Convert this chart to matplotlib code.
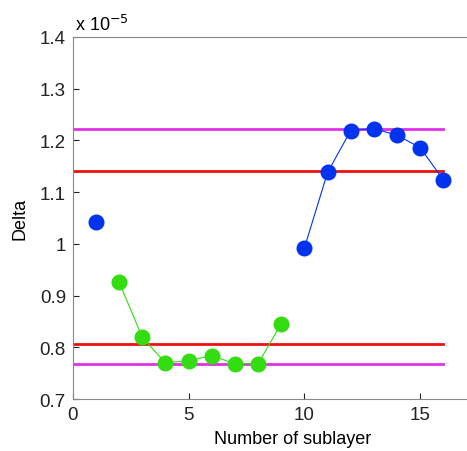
import numpy as np
import matplotlib.pyplot as plt

plt.rcParams['font.family'] = ['Liberation Sans', 'DejaVu Sans']

# Data (values in units of 1e-5)
x_first = [1]
y_first = [1.043]
x_green = [2, 3, 4, 5, 6, 7, 8, 9]
y_green = [0.926, 0.819, 0.770, 0.774, 0.784, 0.768, 0.768, 0.846]
x_blue = [10, 11, 12, 13, 14, 15, 16]
y_blue = [0.992, 1.138, 1.219, 1.223, 1.210, 1.186, 1.124]

magenta_levels = [1.222, 0.768]
red_levels = [1.141, 0.806]
line_span = [0, 16]

fig = plt.figure(figsize=(4.67, 4.52), dpi=100)
ax = fig.add_axes([0.156, 0.115, 0.942, 0.801])

for lv in magenta_levels:
    ax.plot(line_span, [lv, lv], color='#e030e8', lw=2)
for lv in red_levels:
    ax.plot(line_span, [lv, lv], color='#ee1111', lw=2)

ax.plot(x_first, y_first, 'o', color='#0033ee', ms=10.5)
ax.plot(x_green, y_green, '-o', color='#33dd11', ms=10.5, lw=0.8,
        markeredgecolor='#33dd11')
ax.plot(x_blue, y_blue, '-o', color='#0033ee', ms=10.5, lw=0.8,
        markeredgecolor='#0033ee')

ax.set_xlim(0, 19)
ax.set_ylim(0.7, 1.4)
ax.set_xticks([0, 5, 10, 15])
ax.set_yticks([0.7, 0.8, 0.9, 1.0, 1.1, 1.2, 1.3, 1.4])
ax.set_yticklabels(['0.7', '0.8', '0.9', '1', '1.1', '1.2', '1.3', '1.4'])
ax.tick_params(direction='in', length=4, labelsize=13.5, colors='#222222',
               pad=5)
for s in ax.spines.values():
    s.set_color('#888888')
ax.spines['right'].set_visible(False)

ax.set_xlabel('Number of sublayer', fontsize=13, labelpad=5)
ax.set_ylabel('Delta', fontsize=13, labelpad=8)
ax.text(0.005, 1.008, r'x 10$^{-5}$', transform=ax.transAxes, fontsize=13,
        ha='left', va='bottom')

fig.savefig('out.png', dpi=100)
